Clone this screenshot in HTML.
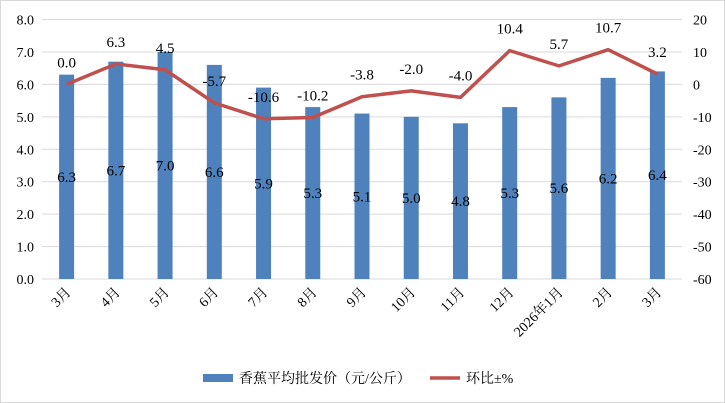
<!DOCTYPE html><html><head><meta charset="utf-8"><style>body{margin:0;background:#fff}svg{display:block}text{font-family:"Liberation Serif","Noto Serif CJK SC","Noto Sans CJK SC",serif;fill:#000}</style></head><body>
<svg width="725" height="403" xmlns="http://www.w3.org/2000/svg">
<rect x="0.5" y="0.5" width="724" height="402" fill="#fff" stroke="#d9d9d9"/>
<g id="g"></g>
<script>
const NS="http://www.w3.org/2000/svg",g=document.getElementById('g');
function el(t,a,txt){const e=document.createElementNS(NS,t);for(const k in a)e.setAttribute(k,a[k]);if(txt!=null)e.textContent=txt;g.appendChild(e);return e;}
const L=42,R=682,T=19.5,B=279,cw=(R-L)/13;
const bars=[6.3,6.7,7.0,6.6,5.9,5.3,5.1,5.0,4.8,5.3,5.6,6.2,6.4];
const line=[0.0,6.3,4.5,-5.7,-10.6,-10.2,-3.8,-2.0,-4.0,10.4,5.7,10.7,3.2];
const cats=["3月","4月","5月","6月","7月","8月","9月","10月","11月","12月","2026年1月","2月","3月"];
const yl=v=>B-(v/8)*(B-T), yr=v=>B-((v+60)/80)*(B-T);
for(let i=0;i<=8;i++){const y=yl(i);el('line',{x1:L,x2:R,y1:y,y2:y,stroke:'#d9d9d9','stroke-width':1});
el('text',{x:34,y:y+5,'text-anchor':'end','font-size':14},i.toFixed(1));
el('text',{x:693,y:y+5,'font-size':14},String(-60+i*10));}
bars.forEach((v,i)=>{const cx=L+cw*(i+.5);el('rect',{x:cx-7.5,y:yl(v),width:15,height:B-yl(v),fill:'#4f81bd'});
el('text',{x:cx,y:(yl(v)+B)/2+5,'text-anchor':'middle','font-size':15},v.toFixed(1));
el('text',{x:cx+5,y:293,'text-anchor':'end','font-size':14,transform:`rotate(-45 ${cx+5} 293)`},cats[i]);});
el('polyline',{points:line.map((v,i)=>(L+cw*(i+.5))+','+yr(v)).join(' '),fill:'none',stroke:'#c0504d','stroke-width':3.5,'stroke-linejoin':'round'});
line.forEach((v,i)=>{const cx=L+cw*(i+.5);el('text',{x:cx,y:yr(v)-17,'text-anchor':'middle','font-size':15},v.toFixed(1));});
el('rect',{x:203,y:374,width:30,height:8,fill:'#4f81bd'});
el('text',{x:239,y:383,'font-size':14},'香蕉平均批发价（元/公斤）');
el('line',{x1:430,x2:460,y1:378,y2:378,stroke:'#c0504d','stroke-width':3.5});
el('text',{x:466,y:383,'font-size':14},'环比±%');
</script>
</svg></body></html>
